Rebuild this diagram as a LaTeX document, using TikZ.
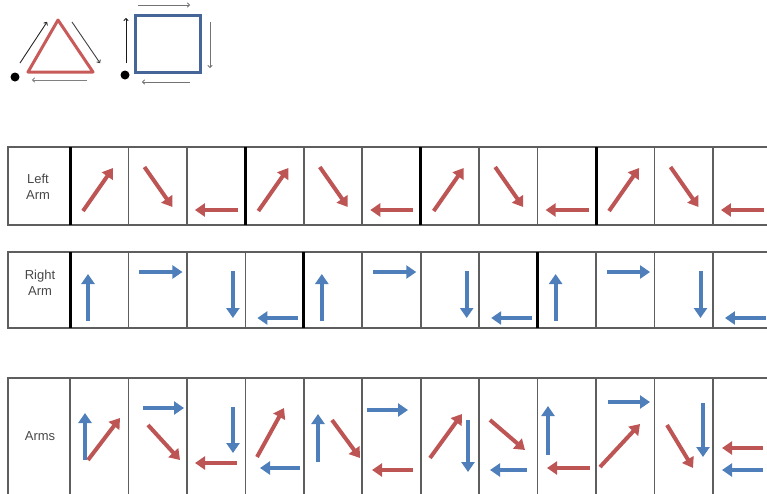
\documentclass[tikz,border=0pt]{standalone}
\usepackage{fontspec}
\setmainfont{Liberation Sans}
\usepackage{xcolor}
\usepackage{tikz}
\usetikzlibrary{arrows.meta}
\definecolor{la}{HTML}{BE5555}
\definecolor{ra}{HTML}{4E7FBA}
\definecolor{tri}{HTML}{C85A5A}
\definecolor{sq}{HTML}{46669A}
\definecolor{gl}{HTML}{5E5E5E}
\definecolor{tx}{HTML}{484848}
\newcommand{\cw}{58.45}
\newcommand{\cx}[1]{70+#1*\cw}

\begin{document}
\begin{tikzpicture}[x=1pt,y=-1pt,
    larm/.style={la, line width=4pt, -{Triangle[length=10pt,width=13pt]}},
    rarm/.style={ra, line width=4pt, -{Triangle[length=10pt,width=13pt]}},
    hint/.style={line width=0.9pt, -{To[length=3pt,width=5pt]}},
    grid/.style={gl, line width=1.6pt},
    sep/.style={black, line width=3pt},
    lbl/.style={text=tx, align=center, font=\fontsize{13}{16}\selectfont, inner sep=0pt}]
  \useasboundingbox (0,0) rectangle (767,493);
  % motion of each arm
  \draw[tri, line width=3pt, line join=round] (58,20) -- (28,72) -- (93,72) -- cycle;
  \fill (15,77) circle (4.5);
  \draw[hint, black!85] (20,63) -- (47,22);
  \draw[hint, black!75] (72,22) -- (100,63);
  \draw[hint, black!50] (87,80) -- (32,80);
  \draw[sq, line width=3pt] (135,15) rectangle (200,72);
  \fill (125,75) circle (4.5);
  \draw[hint, black!90] (126,63) -- (126,18);
  \draw[hint, black!55] (138,5) -- (190,5);
  \draw[hint, black!55] (210,22) -- (210,68);
  \draw[hint, black!55] (190,82) -- (142,82);
  % rows
  \draw[grid] (767,147) -- (8,147) -- (8,225) -- (767,225);
  \draw[grid] (767,252) -- (8,252) -- (8,328) -- (767,328);
  \draw[grid] (767,378) -- (8,378) -- (8,495);
  \foreach \k in {1,2,4,5,7,8,10,11} {
    \draw[grid] ({\cx{\k}},147) -- ({\cx{\k}},225);
  }
  \foreach \k in {0,3,6,9} {
    \draw[sep] ({\cx{\k}},147) -- ({\cx{\k}},225);
  }
  \foreach \k in {1,2,3,5,6,7,9,10,11} {
    \draw[grid] ({\cx{\k}},252) -- ({\cx{\k}},328);
  }
  \foreach \k in {0,4,8} {
    \draw[sep] ({\cx{\k}},252) -- ({\cx{\k}},328);
  }
  \foreach \k in {0,...,11} {
    \draw[grid] ({\cx{\k}},378) -- ({\cx{\k}},495);
  }
  \node[lbl] (lt) at (38,187) {Left\\Arm};
  \node[lbl] (rt) at (40,283) {Right\\Arm};
  \node[lbl] (at) at (40,436) {Arms};
  % left arm
  \foreach \k in {0,3,6,9} {
    \draw[larm] ({\cx{\k}+13},211) -- ({\cx{\k}+43},168);
  }
  \foreach \k in {1,4,7,10} {
    \draw[larm] ({\cx{\k}+16},167) -- ({\cx{\k}+44},207);
  }
  \foreach \k in {2,5,8,11} {
    \draw[larm] ({\cx{\k}+51},210) -- ({\cx{\k}+8},210);
  }
  % right arm
  \foreach \k in {0,4,8} {
    \draw[rarm] ({\cx{\k}+18},321) -- ({\cx{\k}+18},274);
  }
  \foreach \k in {1,5,9} {
    \draw[rarm] ({\cx{\k}+11},272) -- ({\cx{\k}+54},272);
  }
  \foreach \k in {2,6,10} {
    \draw[rarm] ({\cx{\k}+46},271) -- ({\cx{\k}+46},318);
  }
  \foreach \k in {3,7,11} {
    \draw[rarm] ({\cx{\k}+53},318) -- ({\cx{\k}+12},318);
  }
  % both arms
  \foreach \xa/\ya/\xb/\yb in {85/460/85/413, 143/408/184/408, 233/407/233/453,
      300/468/260/468, 318/462/318/414, 367/410/408/410, 468/420/468/472,
      527/470/490/470, 548/455/548/406, 608/402/650/402, 703/403/703/457,
      763/470/722/470} {
    \draw[rarm] (\xa,\ya) -- (\xb,\yb);
  }
  \foreach \xa/\ya/\xb/\yb in {88/460/120/418, 148/425/180/460, 237/463/195/463,
      257/457/284/408, 332/420/360/458, 413/470/372/470, 430/458/462/414,
      490/420/525/450, 590/468/547/468, 600/467/640/424, 667/425/693/468,
      763/448/722/448} {
    \draw[larm] (\xa,\ya) -- (\xb,\yb);
  }
\end{tikzpicture}
\end{document}
